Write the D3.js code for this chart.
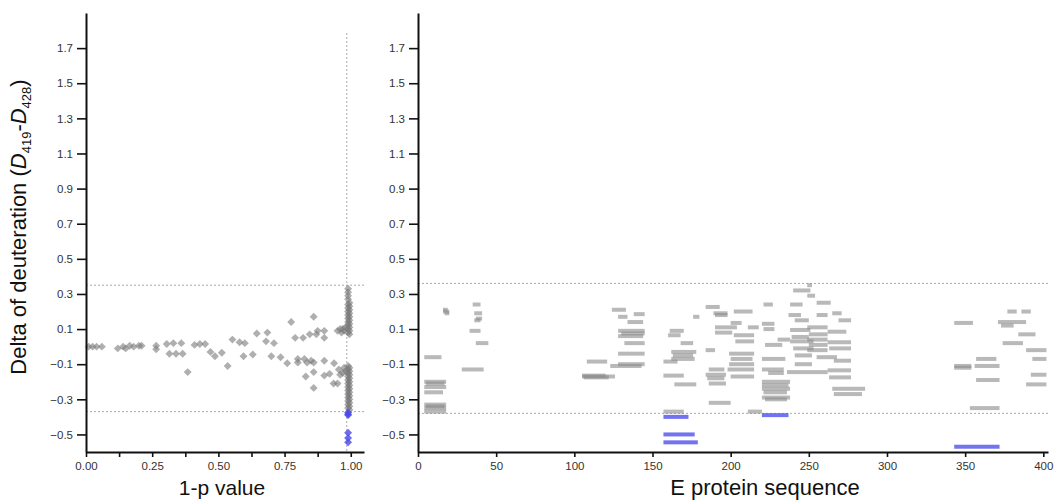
<!DOCTYPE html>
<html>
<head>
<meta charset="utf-8">
<script src="https://cdn.jsdelivr.net/npm/d3@7"></script>
<style>
  body { margin: 0; background: #fff; }
  svg text { font-family: "Liberation Sans", Arial, sans-serif; }
</style>
</head>
<body>
<div id="chart"></div>
<script>
// y ticks shared by both panels
var yTicks = [-0.5, -0.3, -0.1, 0.1, 0.3, 0.5, 0.7, 0.9, 1.1, 1.3, 1.5, 1.7]
var pTicks = [0, 0.125, 0.25, 0.375, 0.5, 0.625, 0.75, 0.875, 1.0]
var pTickLabels = ["0.00", "", "0.25", "", "0.50", "", "0.75", "", "1.00"]
var seqTicks = [0, 50, 100, 150, 200, 250, 300, 350, 400]

// significance cut-offs
var pCut = 0.985
var leftCut = [0.35, -0.37]
var rightCut = [0.36, -0.38]

// volcano-ish points [1-p, delta]
var pointsGray = [
  [0.01, 0.0], [0.025, 0.0], [0.04, 0.0], [0.06, 0.0],
  [0.12, -0.01], [0.14, 0.0], [0.15, -0.01], [0.165, 0.005], [0.18, 0.0], [0.2, 0.005], [0.21, 0.005],
  [0.265, 0.005], [0.265, -0.015],
  [0.305, 0.015], [0.33, 0.02], [0.36, 0.02], [0.315, -0.04], [0.34, -0.04], [0.365, -0.04],
  [0.384, -0.145],
  [0.41, 0.01], [0.43, 0.015], [0.45, 0.015], [0.47, -0.03], [0.487, -0.055], [0.513, -0.035],
  [0.535, -0.11], [0.553, 0.04], [0.58, 0.025], [0.6, 0.02], [0.595, -0.055], [0.63, -0.045],
  [0.645, 0.075], [0.68, 0.03], [0.685, 0.08], [0.70, -0.055], [0.71, 0.02], [0.735, -0.06],
  [0.76, -0.095], [0.775, 0.14], [0.79, 0.05], [0.80, -0.07], [0.80, -0.09], [0.82, 0.05],
  [0.825, -0.07], [0.835, -0.09], [0.83, -0.17], [0.845, 0.07], [0.85, -0.08], [0.86, 0.17],
  [0.86, -0.09], [0.86, -0.235], [0.86, -0.145], [0.87, 0.07], [0.875, 0.09], [0.90, 0.05],
  [0.90, -0.08], [0.90, -0.165], [0.92, -0.155], [0.90, 0.09], [0.937, -0.095], [0.935, -0.21],
  [0.95, -0.21],
  [0.95, 0.09], [0.96, 0.1], [0.965, 0.08], [0.97, 0.1], [0.975, 0.09], [0.98, 0.11],
  [0.955, -0.13], [0.96, -0.16], [0.97, -0.15], [0.975, -0.12], [0.98, -0.14],
  [0.99, 0.33], [0.99, 0.31], [0.99, 0.29], [0.99, 0.27], [0.995, 0.25], [0.99, 0.24],
  [0.995, 0.23], [0.99, 0.22], [0.995, 0.21], [0.99, 0.20], [0.995, 0.19], [0.99, 0.18],
  [0.995, 0.17], [0.99, 0.16], [0.995, 0.15], [0.99, 0.14], [0.995, 0.13], [0.99, 0.12],
  [0.995, 0.11], [0.99, 0.10], [0.995, 0.09], [0.99, 0.08], [0.995, 0.07],
  [0.99, -0.11], [0.995, -0.12], [0.99, -0.13], [0.995, -0.14], [0.99, -0.15], [0.995, -0.16],
  [0.99, -0.17], [0.995, -0.18], [0.99, -0.19], [0.995, -0.20], [0.99, -0.21], [0.995, -0.22],
  [0.99, -0.23], [0.995, -0.24], [0.99, -0.25], [0.995, -0.26], [0.99, -0.27], [0.995, -0.28],
  [0.99, -0.29], [0.995, -0.30], [0.99, -0.31], [0.995, -0.32], [0.99, -0.33], [0.995, -0.34],
  [0.99, -0.35], [0.995, -0.36]
]
var pointsBlue = [[0.99, -0.375], [0.99, -0.385], [0.99, -0.39], [0.99, -0.49], [0.99, -0.52], [0.99, -0.545]]

// peptides [start, end, delta]
var peptidesGray = [
  [4, 15, -0.06], [4, 18, -0.20], [5, 17, -0.21], [4, 18, -0.23], [4, 16, -0.26],
  [4, 18, -0.33], [5, 17, -0.34], [4, 18, -0.35], [4, 18, -0.37],
  [16, 20, 0.20], [17, 20, 0.19], [16, 19, 0.21],
  [35, 40, 0.24], [36, 41, 0.19], [37, 41, 0.16], [36, 40, 0.15], [33, 40, 0.09], [37, 45, 0.02], [28, 42, -0.13],
  [108, 121, -0.085], [105, 126, -0.17], [106, 122, -0.175], [105, 120, -0.165],
  [124, 133, 0.21], [128, 134, 0.17], [138, 145, 0.185], [134, 144, 0.14],
  [128, 145, 0.09], [130, 145, 0.075], [128, 144, 0.06], [132, 145, 0.02], [128, 145, -0.04],
  [128, 145, -0.10], [123, 143, -0.11],
  [161, 170, 0.09], [160, 168, 0.065], [168, 176, 0.02], [162, 178, -0.03], [163, 176, -0.05],
  [162, 177, -0.07], [157, 166, -0.085], [157, 170, -0.165], [164, 178, -0.215], [176, 180, 0.17],
  [157, 170, -0.37],
  [184, 193, 0.226], [189, 198, 0.19], [190, 198, 0.18], [202, 214, 0.20], [200, 207, 0.135],
  [190, 204, 0.11], [211, 218, 0.11], [190, 201, 0.08], [202, 215, 0.065], [203, 215, 0.03],
  [184, 190, -0.02], [199, 215, -0.04], [200, 214, -0.07], [199, 215, -0.10], [186, 196, -0.13],
  [198, 215, -0.13], [184, 197, -0.16], [185, 196, -0.18], [200, 215, -0.17], [186, 197, -0.21],
  [186, 200, -0.32], [211, 220, -0.37],
  [220, 238, -0.20], [220, 237, -0.22], [220, 238, -0.24], [221, 236, -0.26], [220, 238, -0.29],
  [222, 236, -0.30], [220, 235, -0.07], [220, 234, -0.13], [224, 234, -0.15], [220, 228, 0.13],
  [221, 228, 0.10], [221, 227, 0.24], [230, 238, 0.04], [222, 233, 0.01],
  [238, 246, 0.24], [237, 245, 0.18], [241, 250, 0.15], [238, 251, 0.095], [239, 250, 0.055],
  [238, 253, 0.03], [240, 253, -0.01], [241, 252, -0.05], [241, 252, -0.10], [236, 262, -0.145],
  [240, 251, 0.32], [249, 252, 0.35], [249, 254, 0.29],
  [255, 264, 0.25], [255, 262, 0.18], [249, 262, 0.11], [250, 262, 0.07], [249, 262, 0.04],
  [250, 262, 0.01], [249, 262, -0.02],
  [265, 271, 0.19], [269, 277, 0.15], [262, 274, 0.085], [262, 277, 0.025], [263, 277, -0.01],
  [255, 268, -0.06], [266, 277, -0.08], [262, 277, -0.135], [263, 277, -0.175], [265, 286, -0.24],
  [266, 284, -0.27],
  [343, 355, 0.135], [371, 389, 0.14], [373, 381, 0.12], [377, 383, 0.20], [386, 392, 0.20],
  [384, 395, 0.07], [374, 387, 0.02], [389, 402, -0.02], [393, 402, -0.07], [357, 370, -0.07],
  [343, 354, -0.11], [343, 354, -0.12], [356, 372, -0.11], [357, 372, -0.19], [392, 402, -0.16],
  [389, 402, -0.215], [353, 372, -0.35]
]
var peptidesBlue = [[157, 173, -0.40], [157, 177, -0.50], [157, 179, -0.545], [220, 237, -0.39], [343, 372, -0.57]]

var width = 1055
var height = 502
var yTop = 13, yBottom = 452

var svg = d3.select("#chart").append("svg")
  .attr("width", width)
  .attr("height", height)

var y = d3.scaleLinear().domain([-0.6, 1.9]).range([yBottom, yTop])
var xp = d3.scaleLinear().domain([0, 1.05]).range([86, 364])
var xs = d3.scaleLinear().domain([0, 403]).range([418, 1048])

function styleAxis(g) {
  g.select(".domain").attr("stroke", "#111").attr("stroke-width", 2)
  g.selectAll(".tick line").attr("stroke", "#111").attr("stroke-width", 1.6)
  g.selectAll(".tick text").attr("fill", "#333").style("font-size", "11.5px")
}

function drawYAxis(x0) {
  svg.append("g")
    .attr("transform", "translate(" + x0 + ",0)")
    .call(d3.axisLeft(y).tickValues(yTicks).tickSize(9).tickPadding(4).tickSizeOuter(0)
      .tickFormat(d3.format(".1f")))
    .call(styleAxis)
}

// --- left panel ---
// cut-off lines
svg.selectAll(".lcut").data(leftCut).enter().append("line")
  .attr("x1", xp(0)).attr("x2", xp(1.05))
  .attr("y1", d => y(d)).attr("y2", d => y(d))
  .attr("stroke", "#aaa").attr("stroke-dasharray", "2,2")
svg.append("line")
  .attr("x1", xp(pCut)).attr("x2", xp(pCut))
  .attr("y1", 33).attr("y2", yBottom)
  .attr("stroke", "#aaa").attr("stroke-dasharray", "2,2")

var diamond = d3.symbol().type(d3.symbolDiamond2 || d3.symbolDiamond).size(40)
svg.append("g").selectAll("path").data(pointsGray).enter().append("path")
  .attr("d", diamond)
  .attr("transform", d => "translate(" + xp(d[0]) + "," + y(d[1]) + ")")
  .attr("fill", "#7a7a7a").attr("fill-opacity", 0.6)
svg.append("g").selectAll("path").data(pointsBlue).enter().append("path")
  .attr("d", diamond)
  .attr("transform", d => "translate(" + xp(d[0]) + "," + y(d[1]) + ")")
  .attr("fill", "#4a4ae8").attr("fill-opacity", 0.8)

drawYAxis(86)
svg.append("g")
  .attr("transform", "translate(0," + yBottom + ")")
  .call(d3.axisBottom(xp).tickValues(pTicks).tickSize(5).tickPadding(5).tickSizeOuter(0)
    .tickFormat((d, i) => pTickLabels[i]))
  .call(styleAxis)

// --- right panel ---
svg.selectAll(".rcut").data(rightCut).enter().append("line")
  .attr("x1", xs(0)).attr("x2", xs(403))
  .attr("y1", d => y(d)).attr("y2", d => y(d))
  .attr("stroke", "#aaa").attr("stroke-dasharray", "2,2")

svg.append("g").selectAll("rect").data(peptidesGray).enter().append("rect")
  .attr("x", d => xs(d[0]))
  .attr("width", d => xs(d[1]) - xs(d[0]))
  .attr("y", d => y(d[2]) - 2)
  .attr("height", 4)
  .attr("fill", "#8a8a8a").attr("fill-opacity", 0.6)
svg.append("g").selectAll("rect").data(peptidesBlue).enter().append("rect")
  .attr("x", d => xs(d[0]))
  .attr("width", d => xs(d[1]) - xs(d[0]))
  .attr("y", d => y(d[2]) - 2)
  .attr("height", 4)
  .attr("fill", "#5a5aee").attr("fill-opacity", 0.85)

drawYAxis(418)
svg.append("g")
  .attr("transform", "translate(0," + yBottom + ")")
  .call(d3.axisBottom(xs).tickValues(seqTicks).tickSize(5).tickPadding(5).tickSizeOuter(0))
  .call(styleAxis)

// --- titles ---
svg.append("text")
  .attr("x", 222).attr("y", 495)
  .attr("text-anchor", "middle")
  .style("font-size", "21px").attr("fill", "#111")
  .text("1-p value")
svg.append("text")
  .attr("x", 765).attr("y", 495)
  .attr("text-anchor", "middle")
  .style("font-size", "22px").attr("fill", "#111")
  .text("E protein sequence")

var yt = svg.append("text")
  .attr("transform", "translate(26,227) rotate(-90)")
  .attr("text-anchor", "middle")
  .style("font-size", "22px").attr("fill", "#111")
yt.append("tspan").text("Delta of deuteration (")
yt.append("tspan").style("font-style", "italic").text("D")
yt.append("tspan").attr("dy", 5).style("font-size", "13px").text("419")
yt.append("tspan").attr("dy", -5).text("-")
yt.append("tspan").style("font-style", "italic").text("D")
yt.append("tspan").attr("dy", 5).style("font-size", "13px").text("428")
yt.append("tspan").attr("dy", -5).text(")")
</script>
</body>
</html>
